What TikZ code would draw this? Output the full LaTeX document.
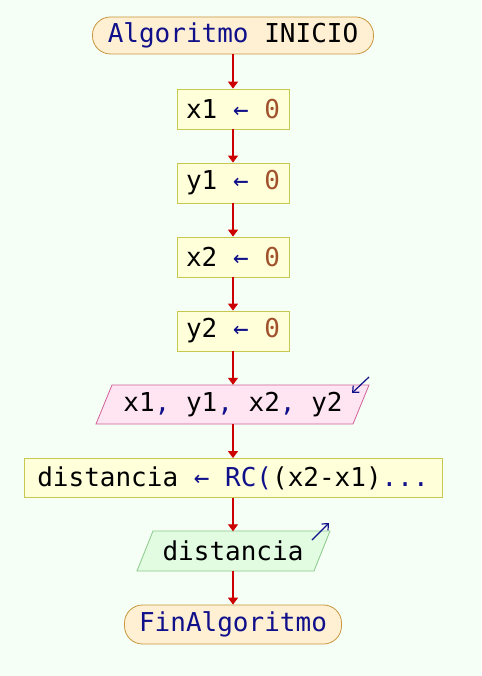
\documentclass[tikz,border=0pt]{standalone}
\usepackage{fontspec}
\setmonofont{DejaVu Sans Mono}
\usetikzlibrary{arrows.meta}
\definecolor{bgc}{HTML}{F5FFF5}
\definecolor{termfill}{HTML}{FFF0D4}
\definecolor{termdraw}{HTML}{C8963C}
\definecolor{procfill}{HTML}{FFFFDA}
\definecolor{procdraw}{HTML}{C8C850}
\definecolor{infill}{HTML}{FFE4F2}
\definecolor{indraw}{HTML}{D0609A}
\definecolor{outfill}{HTML}{E2FCE2}
\definecolor{outdraw}{HTML}{88C888}
\definecolor{kw}{HTML}{10108A}
\definecolor{num}{HTML}{A0522D}
\definecolor{flow}{HTML}{CC0000}
\tikzset{
  every node/.style={font=\ttfamily\fontsize{26}{30}\selectfont, inner sep=0pt},
  term/.style={draw=termdraw, fill=termfill, rounded corners=18pt, line width=0.8pt},
  proc/.style={draw=procdraw, fill=procfill, line width=0.8pt},
  flowarrow/.style={draw=flow, line width=1.3pt, -{Triangle[width=10pt,length=7pt]}},
  icon/.style={draw=kw, line width=1.2pt, -{Straight Barb[length=5pt,width=9pt]}},
  ghost/.style={minimum height=39pt}
}
\begin{document}
\begin{tikzpicture}[x=1pt,y=-1pt]
\useasboundingbox[fill=bgc] (0,0) rectangle (481,676);
% start
\node[term, minimum width=281pt, minimum height=37pt] (start) at (233,35.5) {\textcolor{kw}{Algoritmo} INICIO};
\node[proc, minimum width=112pt, minimum height=40pt] (a1) at (233,109) {x1 \textcolor{kw}{←} \textcolor{num}{0}};
\node[proc, minimum width=112pt, minimum height=40pt] (a2) at (233,183) {y1 \textcolor{kw}{←} \textcolor{num}{0}};
\node[proc, minimum width=112pt, minimum height=40pt] (a3) at (233,257) {x2 \textcolor{kw}{←} \textcolor{num}{0}};
\node[proc, minimum width=112pt, minimum height=40pt] (a4) at (233,331) {y2 \textcolor{kw}{←} \textcolor{num}{0}};
% input parallelogram
\coordinate (inTL) at (112,385);
\coordinate (inTR) at (369,385);
\coordinate (inBR) at (353,424);
\coordinate (inBL) at (96,424);
\draw[draw=indraw, fill=infill, line width=0.8pt] (inTL) -- (inTR) -- (inBR) -- (inBL) -- cycle;
\node[ghost, minimum width=240pt] (rd) at (233,404.5) {x1\textcolor{kw}{,} y1\textcolor{kw}{,} x2\textcolor{kw}{,} y2};
\coordinate (ri1) at (369,377);
\coordinate (ri2) at (352,393);
\draw[icon] (ri1) -- (ri2);
% assignment
\node[proc, minimum width=418pt, minimum height=39pt] (a5) at (233,478) {distancia \textcolor{kw}{← RC(}(x2-x1)\textcolor{kw}{...}};
% output parallelogram
\coordinate (oTL) at (153,531);
\coordinate (oTR) at (330,531);
\coordinate (oBR) at (314,571);
\coordinate (oBL) at (137,571);
\draw[draw=outdraw, fill=outfill, line width=0.8pt] (oTL) -- (oTR) -- (oBR) -- (oBL) -- cycle;
\node[ghost, minimum width=160pt] (wr) at (233,551) {distancia};
\coordinate (wi1) at (312,540);
\coordinate (wi2) at (329,523);
\draw[icon] (wi1) -- (wi2);
% end
\node[term, minimum width=217pt, minimum height=39pt] (end) at (233,624.5) {\textcolor{kw}{FinAlgoritmo}};
% connectors
\draw[flowarrow] (start.south) -- (a1.north);
\draw[flowarrow] (a1.south) -- (a2.north);
\draw[flowarrow] (a2.south) -- (a3.north);
\draw[flowarrow] (a3.south) -- (a4.north);
\draw[flowarrow] (a4.south) -- (rd.north);
\draw[flowarrow] (rd.south) -- (a5.north);
\draw[flowarrow] (a5.south) -- (wr.north);
\draw[flowarrow] (wr.south) -- (end.north);
\end{tikzpicture}
\end{document}
